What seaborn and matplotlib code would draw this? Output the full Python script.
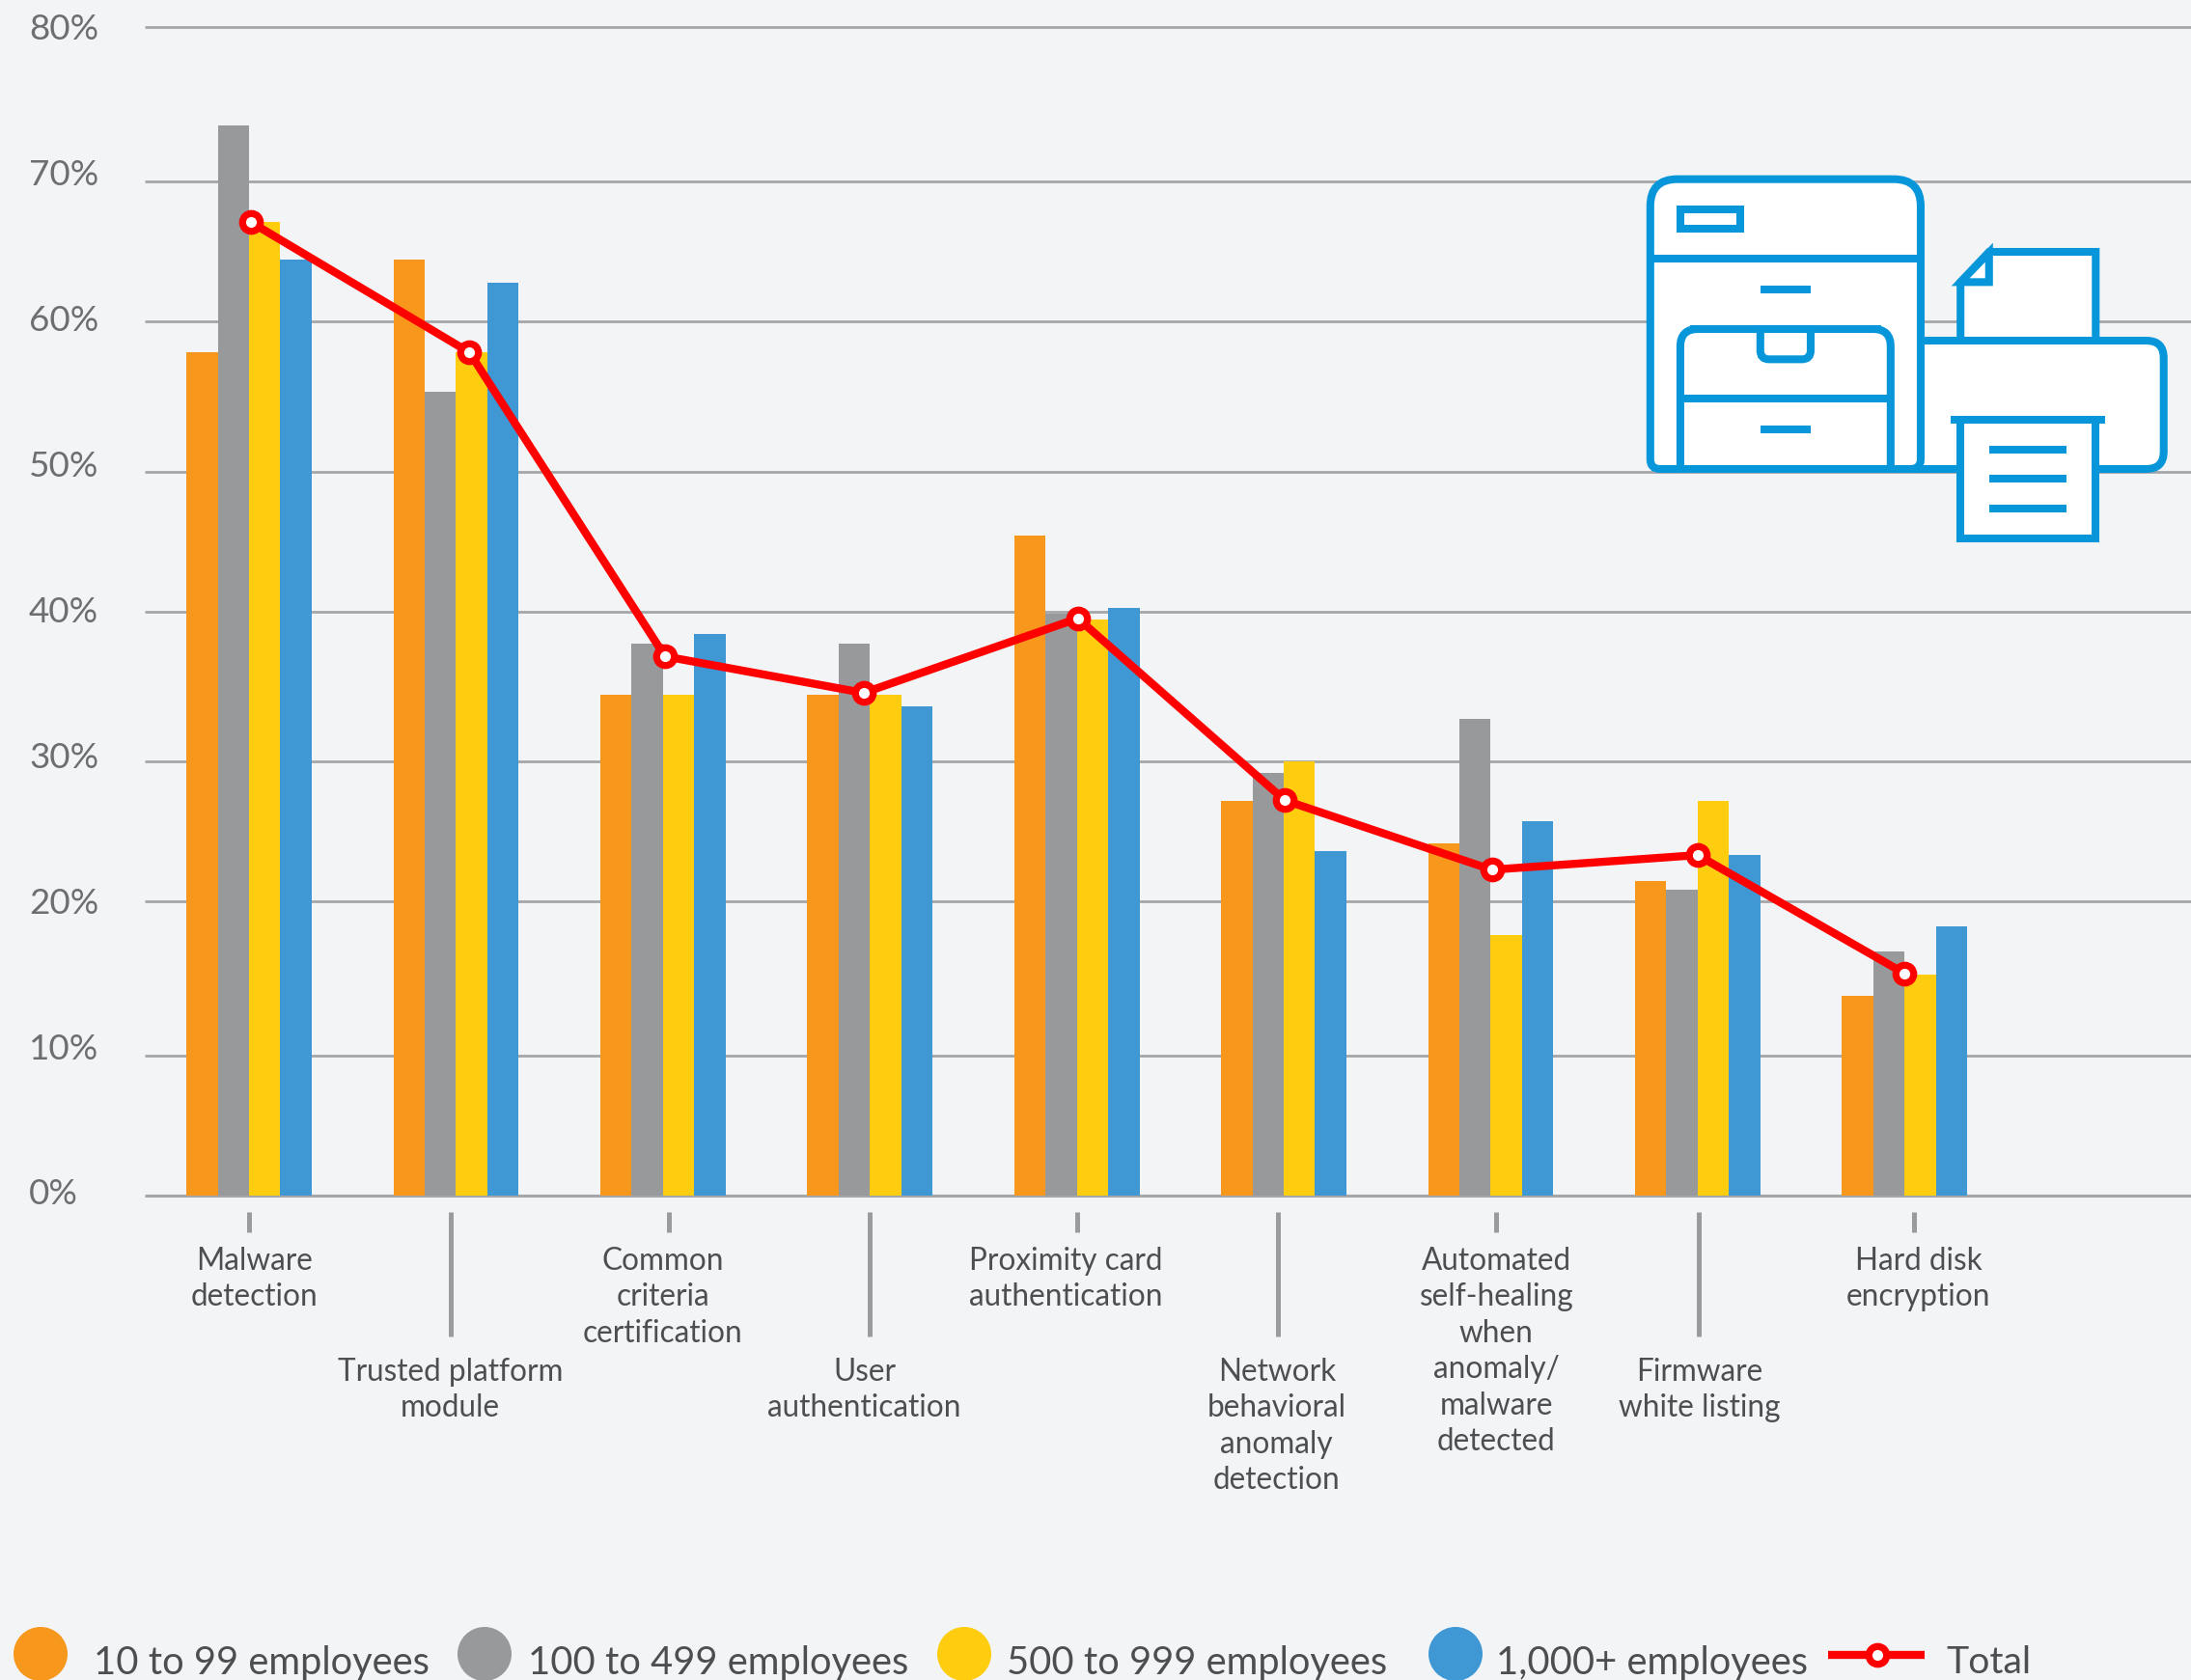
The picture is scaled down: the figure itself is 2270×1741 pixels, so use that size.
import matplotlib
matplotlib.use("Agg")
import matplotlib.pyplot as plt
import pandas as pd
import seaborn as sns
from matplotlib.patches import Circle, PathPatch
from matplotlib.path import Path
from matplotlib.lines import Line2D
from matplotlib.transforms import Affine2D

categories = ["Malware\ndetection", "Trusted platform\nmodule", "Common\ncriteria\ncertification",
              "User\nauthentication", "Proximity card\nauthentication",
              "Network\nbehavioral\nanomaly\ndetection",
              "Automated\nself-healing\nwhen\nanomaly/\nmalware\ndetected",
              "Firmware\nwhite listing", "Hard disk\nencryption"]
small = [57.7, 64.05, 34.3, 34.3, 45.2, 27.0, 24.1, 21.5, 13.7]
medium = [73.2, 55.0, 37.8, 37.8, 39.8, 28.9, 32.6, 20.9, 16.7]
large = [66.6, 57.7, 34.3, 34.3, 39.4, 29.7, 17.8, 27.0, 15.1]
enterprise = [64.05, 62.5, 38.4, 33.5, 40.2, 23.6, 25.6, 23.3, 18.45]
total = [66.6, 57.7, 36.9, 34.4, 39.5, 27.05, 22.3, 23.3, 15.2]
total_x = [0.01, 1.065, 2.01, 2.97, 4.005, 5.005, 6.005, 7.0, 8.0]
series_names = ["10 to 99 employees", "100 to 499 employees", "500 to 999 employees", "1,000+ employees"]
colors = ["#F7981D", "#97999B", "#FECD10", "#3F97D3"]
y_ticks = [0, 10, 20, 30, 40, 50, 60, 70, 80]
grid_levels = [9.56, 20.17, 29.7, 39.96, 49.5, 59.85, 69.4, 80]
label_x = [0.027, 0.973, 2.0, 2.973, 3.946, 4.966, 6.027, 7.007, 8.068]
mark_x = [0.0, 0.973, 2.027, 3.0, 4.0, 4.973, 6.027, 7.007, 8.047]
staggered = [False, True, False, True, False, True, False, True, False]

W, H = 2270, 1741
BG = "#F3F4F6"
GRID = "#A5A6A8"
TXT = "#4D4E50"
ICON = "#0796D9"
FONT = "Lato"

sns.set_theme(style="white")
plt.rcParams["font.family"] = [FONT, "DejaVu Sans"]

df = pd.DataFrame({"category": categories * 4,
                   "series": [n for n in series_names for _ in categories],
                   "value": small + medium + large + enterprise})

fig = plt.figure(figsize=(W / 100, H / 100), dpi=100, facecolor=BG)
y0, y80, x0 = 1239, 27.5, 150
ax = fig.add_axes([x0 / W, (H - y0) / H, 1 - x0 / W, (y0 - y80) / H], facecolor=BG)

sns.barplot(data=df, x="category", y="value", hue="series", order=categories, hue_order=series_names,
            palette=colors, width=0.605, gap=0, saturation=1, legend=False, ax=ax, zorder=3, linewidth=0)
sns.lineplot(x=total_x, y=total, ax=ax, color="#FF0000", lw=6.0, marker="o", ms=13.3, mfc="white",
             mec="#FF0000", mew=5.2, errorbar=None, zorder=5, clip_on=False)

ax.set_xlim(-0.504, 9.384)
ax.set_ylim(0, 80)
ax.hlines(grid_levels, -0.504, 9.384, color=GRID, lw=2.0, zorder=1, clip_on=False)
for s in ["top", "left", "right"]:
    ax.spines[s].set_visible(False)
ax.spines["bottom"].set_color(GRID)
ax.spines["bottom"].set_linewidth(2.2)
ax.spines["bottom"].set_capstyle("butt")
ax.spines["bottom"].set_zorder(2)
ax.set_xlabel("")
ax.set_ylabel("")

ax.set_yticks(y_ticks)
ax.set_yticklabels([f"{v}%" for v in y_ticks], fontsize=26.5, color="#6D6E71", ha="left")
ax.tick_params(axis="y", length=0, pad=(x0 - 30) * 0.72)
for v, lab in zip(y_ticks, ax.get_yticklabels()):
    lab.set_transform(lab.get_transform() + Affine2D().translate(0, 4 * (80 - v) / 80))

ax.set_xticks(label_x)
ax.set_xticklabels(categories, fontsize=22.7, color=TXT, linespacing=1.31, ha="center", va="top")
ax.tick_params(axis="x", length=0)
for tick, st in zip(ax.xaxis.get_major_ticks(), staggered):
    tick.set_pad((168 if st else 53) * 0.72)

trans = ax.get_xaxis_transform()
frac = lambda px: (y0 - px) / (y0 - y80)
for xm, st in zip(mark_x, staggered):
    ax.add_line(Line2D([xm, xm], [frac(1256), frac(1385 if st else 1277)], transform=trans,
                       color="#9A9B9D", lw=3.6, clip_on=False, solid_capstyle="butt"))

# overlay in pixel coordinates: legend and printer icon
ov = fig.add_axes([0, 0, 1, 1], facecolor="none", zorder=10)
ov.set_xlim(0, W)
ov.set_ylim(H, 0)
ov.axis("off")

LEG_Y = 1723
for cx, tx, col, name in zip([42, 502, 999, 1508], [97, 547, 1043, 1550], colors, series_names):
    ov.add_patch(Circle((cx, 1714), 28, color=col, lw=0))
    ov.text(tx, LEG_Y, name, fontsize=28.7, color=TXT, va="center", ha="left")
ov.add_line(Line2D([1894, 1994], [1715, 1715], color="#FF0000", lw=6.0, solid_capstyle="butt"))
ov.add_line(Line2D([1945], [1715], marker="o", ms=13.3, mfc="white", mec="#FF0000", mew=5.2))
ov.text(2016, LEG_Y, "Total", fontsize=28.2, color=TXT, va="center", ha="left")


def zx(v):
    return 1660 + v / 2.57


def zy(v):
    return 150 + v / 3


def rounded(x0_, y0_, x1_, y1_, tl, tr, br, bl):
    """Rounded rectangle in zoom-crop coordinates, corner radii in pixels."""
    a, b, c, d = zx(x0_), zy(y0_), zx(x1_), zy(y1_)
    v = [(a + tl, b), (c - tr, b), (c, b), (c, b + tr), (c, d - br), (c, d), (c - br, d),
         (a + bl, d), (a, d), (a, d - bl), (a, b + tl), (a, b), (a + tl, b), (a + tl, b)]
    k = [Path.MOVETO, Path.LINETO, Path.CURVE3, Path.CURVE3, Path.LINETO, Path.CURVE3, Path.CURVE3,
         Path.LINETO, Path.CURVE3, Path.CURVE3, Path.LINETO, Path.CURVE3, Path.CURVE3, Path.CLOSEPOLY]
    return Path(v, k)


def shape(path, fill="white"):
    ov.add_patch(PathPatch(path, fc=fill, ec=ICON, lw=5.8, joinstyle="miter"))


def poly(points, fill="white"):
    pts = [(zx(a), zy(b)) for a, b in points]
    p = Path(pts + [pts[0]], [Path.MOVETO] + [Path.LINETO] * (len(pts) - 1) + [Path.CLOSEPOLY])
    ov.add_patch(PathPatch(p, fc=fill, ec=ICON, lw=5.8, joinstyle="miter", capstyle="butt"))


def bar(a, b, y):
    ov.add_line(Line2D([zx(a), zx(b)], [zy(y), zy(y)], color=ICON, lw=5.8, solid_capstyle="butt"))


# printer
poly([(954, 609), (954, 427), (1030, 333), (1314, 333), (1314, 609)])
poly([(954, 427), (1030, 335), (1030, 427)], fill="white")
shape(rounded(800, 609, 1495, 1008, 0, 18, 18, 0))
poly([(954, 855), (1314, 855), (1314, 1224), (954, 1224)])
bar(928, 1340, 855)
for yy in (947, 1038, 1130):
    bar(1031, 1236, yy)
# cabinet
shape(rounded(128, 107, 848, 1008, 28, 28, 10, 10))
bar(128, 848, 355)
poly([(208, 200), (368, 200), (368, 262), (208, 262)])
bar(422, 555, 449)
shape(rounded(208, 573, 768, 1008, 18, 18, 0, 0))
shape(rounded(421, 573, 555, 667, 0, 0, 9, 9))
bar(233, 743, 573)
bar(208, 768, 790)
bar(422, 555, 884)

fig.savefig("out.png", dpi=100, facecolor=BG)
